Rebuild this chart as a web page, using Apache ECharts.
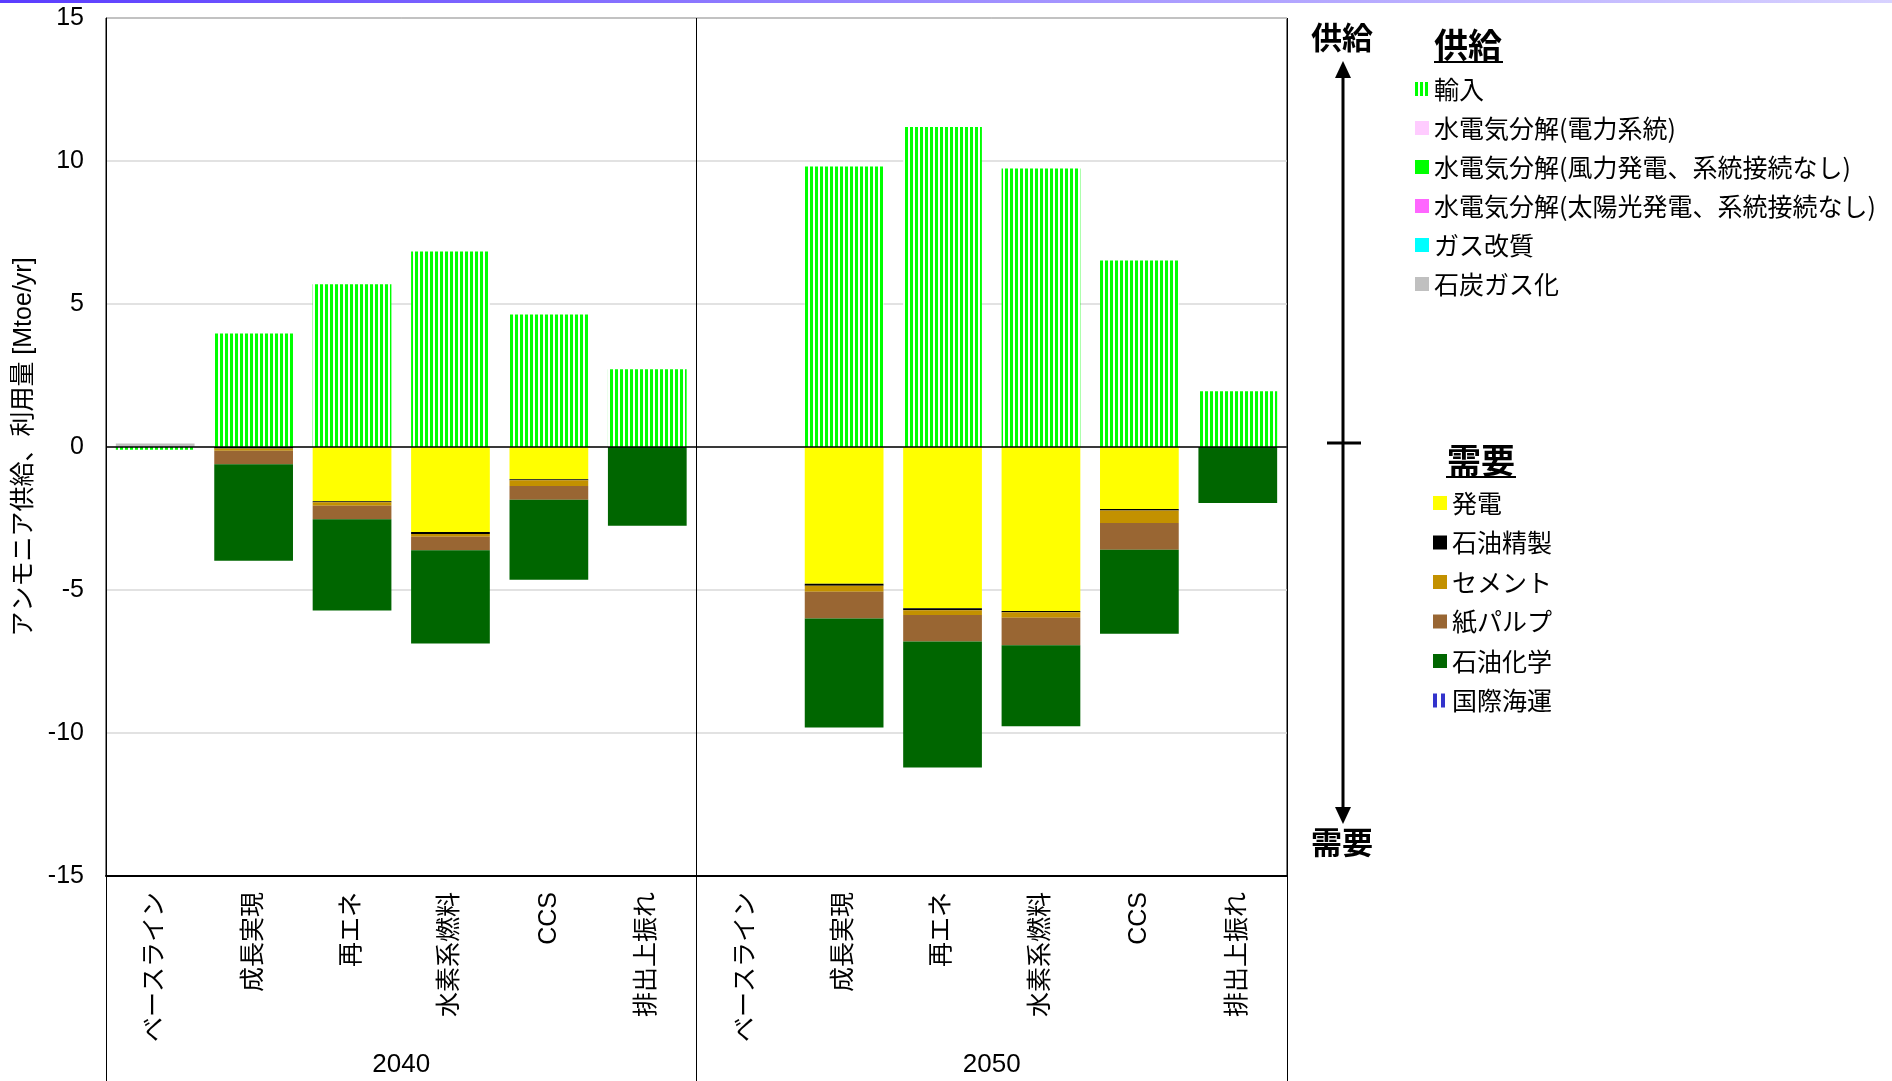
<!DOCTYPE html>
<html>
<head>
<meta charset="utf-8">
<script src="https://cdn.jsdelivr.net/npm/echarts@6/dist/echarts.min.js"></script>
<style>
html,body{margin:0;padding:0;background:#fff;}
#chart{width:1892px;height:1081px;}
</style>
</head>
<body>
<div id="chart"></div>
<script>
// ---- data ----
const categories = ['ベースライン','成長実現','再エネ','水素系燃料','CCS','排出上振れ',
                    'ベースライン','成長実現','再エネ','水素系燃料','CCS','排出上振れ'];
const years = ['2040','2050'];

// supply (positive)
const supImport   = [-0.10, 3.97, 5.69, 6.84, 4.63, 2.72, 0, 9.81, 11.19, 9.74, 6.52, 1.95];
const supElecGrid = [0,0,0,0,0,0, 0,0,0,0,0,0];
const supElecWind = [0,0,0,0,0,0, 0,0,0,0,0,0];
const supElecPV   = [0,0,0,0,0,0, 0,0,0,0,0,0];
const supGasRef   = [0,0,0,0,0,0, 0,0,0,0,0,0];
const supCoalGas  = [0.12,0,0,0,0,0, 0,0,0,0,0,0];

// demand (negative)
const demPower    = [0, 0, -1.90, -2.97, -1.13, 0, 0, -4.78, -5.64, -5.73, -2.17, 0];
const demRefinery = [0, -0.05, -0.03, -0.07, -0.035, 0, 0, -0.07, -0.07, -0.05, -0.05, 0];
const demCement   = [0, -0.08, -0.12, -0.10, -0.20, 0, 0, -0.21, -0.16, -0.19, -0.44, 0];
const demPaper    = [0, -0.47, -0.48, -0.47, -0.48, 0, 0, -0.94, -0.93, -0.96, -0.93, 0];
const demPetchem  = [0, -3.38, -3.19, -3.26, -2.80, -2.75, 0, -3.81, -4.41, -2.83, -2.94, -1.96];
const demShipping = [0,0,0,0,0,0, 0,0,0,0,0,0];

const yTicks = {min:-15, max:15, interval:5};

const supplyNames = ['輸入','水電気分解(電力系統)','水電気分解(風力発電、系統接続なし)','水電気分解(太陽光発電、系統接続なし)','ガス改質','石炭ガス化'];
const demandNames = ['発電','石油精製','セメント','紙パルプ','石油化学','国際海運'];

// ---- styles ----
const FONT = "'Liberation Sans', 'Noto Sans CJK JP', sans-serif";
const JFONT = "'Noto Sans CJK JP', sans-serif";

function stripes(color, on, off) {
  const c = document.createElement('canvas');
  c.width = on + off; c.height = 4;
  const ctx = c.getContext('2d');
  ctx.fillStyle = '#ffffff'; ctx.fillRect(0, 0, c.width, c.height);
  ctx.fillStyle = color; ctx.fillRect(0, 0, on, c.height);
  return {image: c, repeat: 'repeat'};
}

const supplyData = [supImport, supElecGrid, supElecWind, supElecPV, supGasRef, supCoalGas];
const supplyColors = [stripes('#00ff00', 3, 2), '#ffccff', '#00ff00', '#ff66ff', '#00ffff', '#c0c0c0'];
const demandData = [demPower, demRefinery, demCement, demPaper, demPetchem, demShipping];
const demandColors = ['#ffff00', '#000000', '#c39100', '#996633', '#006600', stripes('#3333cc', 4, 4)];

const series = [];
supplyNames.forEach((n, i) => {
  series.push({
    name: n, type: 'bar', stack: 'all', data: supplyData[i],
    barCategoryGap: '20%',
    itemStyle: {color: supplyColors[i]},
    xAxisIndex: 0, yAxisIndex: 0
  });
});
demandNames.forEach((n, i) => {
  series.push({
    name: n, type: 'bar', stack: 'all', data: demandData[i],
    barCategoryGap: '20%',
    itemStyle: {color: demandColors[i]},
    xAxisIndex: 0, yAxisIndex: 0
  });
});
series[0].markLine = {
  silent: true, symbol: ['none','none'], label: {show:false},
  lineStyle: {color:'#000', width:1.5, type:'solid'},
  data: [{yAxis: 0}], animation: false
};

const chart = echarts.init(document.getElementById('chart'), null, {renderer:'canvas'});

const legendBase = {
  orient: 'vertical', itemWidth: 14, itemHeight: 14, icon: 'rect',
  selectedMode: false,
  textStyle: {fontSize: 25, lineHeight: 26, color: '#000', fontFamily: JFONT},
  padding: 0
};

chart.setOption({
  animation: false,
  backgroundColor: '#fff',
  grid: {left: 106, right: 605, top: 18, bottom: 205, containLabel: false, outerBoundsMode: 'none',
         show: true, borderColor: '#000', borderWidth: 1, backgroundColor: 'transparent'},
  legend: [
    Object.assign({}, legendBase, {data: supplyNames, left: 1415, top: 76, itemGap: 13}),
    Object.assign({}, legendBase, {data: demandNames, left: 1433, top: 490, itemGap: 13.5})
  ],
  xAxis: [
    {
      type: 'category', data: categories, position: 'bottom',
      axisLine: {show: false}, axisTick: {show: false}, splitLine: {show: false},
      axisLabel: {rotate: 90, interval: 0, margin: 16, fontSize: 25, color: '#000', fontFamily: FONT}
    },
    {
      type: 'category', data: years, position: 'bottom',
      axisLine: {show: true, onZero: false, lineStyle: {color: '#000', width: 2}},
      axisTick: {show: true, interval: 0, length: 210, lineStyle: {color: '#000', width: 1}},
      splitLine: {show: true, interval: 0, lineStyle: {color: '#000', width: 1}},
      axisLabel: {interval: 0, margin: 176, fontSize: 26, color: '#000', fontFamily: FONT}
    }
  ],
  yAxis: {
    type: 'value', min: yTicks.min, max: yTicks.max, interval: yTicks.interval,
    name: 'アンモニア供給、利用量 [Mtoe/yr]', nameLocation: 'middle', nameGap: 59,
    nameTextStyle: {fontSize: 25, color: '#000', fontFamily: FONT},
    axisLine: {show: true, lineStyle: {color: '#000', width: 1}},
    axisTick: {show: false},
    axisLabel: {fontSize: 25, color: '#000', margin: 22, fontFamily: FONT},
    splitLine: {show: true, lineStyle: {color: '#d9d9d9', width: 1.5}}
  },
  series: series,
  graphic: [
    {type: 'rect', shape: {x: 0, y: 0, width: 1892, height: 3}, silent: true,
     style: {fill: new echarts.graphic.LinearGradient(0, 0, 1, 0, [
       {offset: 0, color: '#5a3cff'}, {offset: 0.5, color: '#9d8cff'}, {offset: 1, color: '#d8d2ff'}])}},
    {type: 'text', style: {text: '供給', x: 1342, y: 37, fontSize: 31, fontWeight: 'bold', fontFamily: JFONT,
      fill: '#000', textAlign: 'center', textVerticalAlign: 'middle'}},
    {type: 'text', style: {text: '需要', x: 1342, y: 842, fontSize: 31, fontWeight: 'bold', fontFamily: JFONT,
      fill: '#000', textAlign: 'center', textVerticalAlign: 'middle'}},
    {type: 'line', shape: {x1: 1343, y1: 74, x2: 1343, y2: 812}, style: {stroke: '#000', lineWidth: 3}},
    {type: 'polygon', shape: {points: [[1343, 61], [1335, 78], [1351, 78]]}, style: {fill: '#000'}},
    {type: 'polygon', shape: {points: [[1343, 824], [1335, 807], [1351, 807]]}, style: {fill: '#000'}},
    {type: 'line', shape: {x1: 1327, y1: 443, x2: 1361, y2: 443}, style: {stroke: '#000', lineWidth: 3}},
    {type: 'text', style: {text: '供給', x: 1434, y: 45, fontSize: 34, fontWeight: 'bold', fontFamily: JFONT,
      fill: '#000', textAlign: 'left', textVerticalAlign: 'middle'}},
    {type: 'line', shape: {x1: 1434, y1: 62, x2: 1503, y2: 62}, style: {stroke: '#000', lineWidth: 2}},
    {type: 'text', style: {text: '需要', x: 1447, y: 460, fontSize: 34, fontWeight: 'bold', fontFamily: JFONT,
      fill: '#000', textAlign: 'left', textVerticalAlign: 'middle'}},
    {type: 'line', shape: {x1: 1446, y1: 477, x2: 1516, y2: 477}, style: {stroke: '#000', lineWidth: 2}}
  ]
});
</script>
</body>
</html>
